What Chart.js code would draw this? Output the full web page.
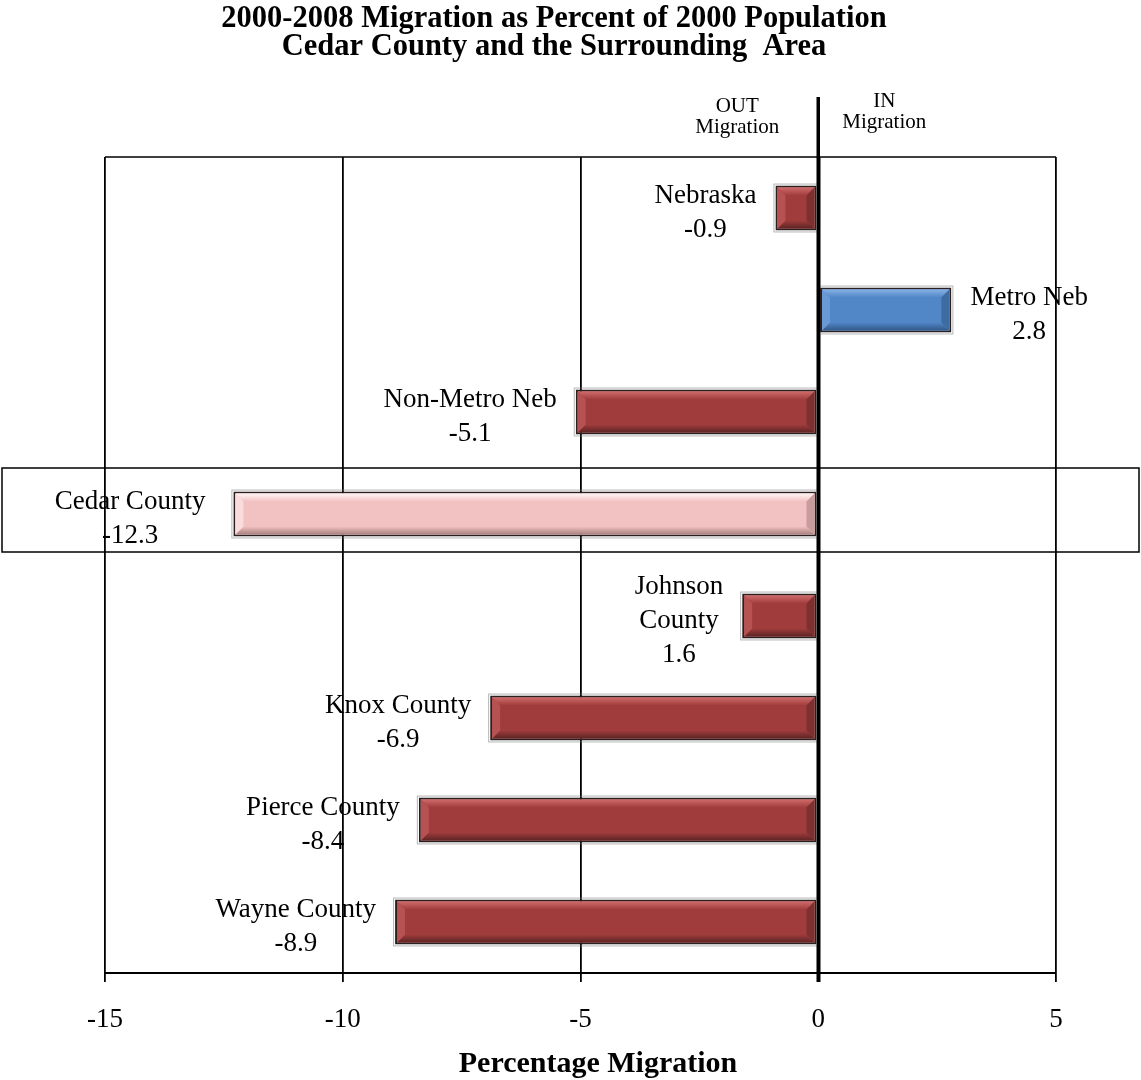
<!DOCTYPE html>
<html>
<head>
<meta charset="utf-8">
<script src="https://cdn.jsdelivr.net/npm/chart.js@4/dist/chart.umd.min.js"></script>
<style>
  html, body { margin: 0; padding: 0; background: #fff; }
  #wrap { width: 1141px; height: 1080px; }
</style>
</head>
<body>
<div id="wrap"><canvas id="c" width="1141" height="1080"></canvas></div>
<script>
// Net migration 2000-2008, percent of 2000 population
const categories = ['Nebraska', 'Metro Neb', 'Non-Metro Neb', 'Cedar County',
                    'Johnson County', 'Knox County', 'Pierce County', 'Wayne County'];
const migrationPct = [-0.9, 2.8, -5.1, -12.3, -1.6, -6.9, -8.4, -8.9];
const valueLabels = ['-0.9', '2.8', '-5.1', '-12.3', '1.6', '-6.9', '-8.4', '-8.9'];
const nameLines = [['Nebraska'], ['Metro Neb'], ['Non-Metro Neb'], ['Cedar County'],
                   ['Johnson', 'County'], ['Knox County'], ['Pierce County'], ['Wayne County']];
const xTicks = [-15, -10, -5, 0, 5];
const highlightCategory = 'Cedar County';

const titleLines = ['2000-2008 Migration as Percent of 2000 Population',
                    'Cedar County and the Surrounding  Area'];
const axisTitle = 'Percentage Migration';
const outLines = ['OUT', 'Migration'];
const inLines = ['IN', 'Migration'];

const SERIF = '"Liberation Serif", "Times New Roman", serif';

const palettes = {
  red:  { face: '#A03C3C', top: '#CF6A6A', bottom: '#5E2424', left: '#B65252', right: '#7E3030' },
  blue: { face: '#5186C7', top: '#86B0E4', bottom: '#33598A', left: '#6A9AD6', right: '#3F6BA3' },
  pink: { face: '#F2C1C1', top: '#FFF6F6', bottom: '#A98181', left: '#FADCDC', right: '#C99C9C' }
};
function paletteFor(i) {
  if (categories[i] === highlightCategory) return palettes.pink;
  return migrationPct[i] > 0 ? palettes.blue : palettes.red;
}

function poly(ctx, pts, fill) {
  ctx.beginPath();
  ctx.moveTo(pts[0][0], pts[0][1]);
  for (let k = 1; k < pts.length; k++) ctx.lineTo(pts[k][0], pts[k][1]);
  ctx.closePath();
  ctx.fillStyle = fill;
  ctx.fill();
}

// plot frame top edge (sides come from the -15 and 5 grid lines, bottom from the axis)
const framePlugin = {
  id: 'frame',
  beforeDatasetsDraw(chart) {
    const { ctx, chartArea: a } = chart;
    ctx.save();
    ctx.strokeStyle = '#000';
    ctx.lineWidth = 1.6;
    ctx.beginPath();
    ctx.moveTo(a.left, a.top);
    ctx.lineTo(a.right, a.top);
    ctx.stroke();
    ctx.restore();
  }
};

// bevelled bar faces, zero line, data labels and annotation text
const decorPlugin = {
  id: 'decor',
  afterDatasetsDraw(chart) {
    const { ctx, chartArea: area } = chart;
    const xs = chart.scales.x, ys = chart.scales.y;
    const meta = chart.getDatasetMeta(0);
    ctx.save();

    // bevels
    meta.data.forEach((el, i) => {
      const p = el.getProps(['x', 'y', 'base', 'height'], true);
      const pal = paletteFor(i);
      const bw = 2;
      const l = Math.min(p.x, p.base) + bw, r = Math.max(p.x, p.base) - bw;
      const t = p.y - p.height / 2 + bw, b = p.y + p.height / 2 - bw;
      const d = Math.min(8, (b - t) / 3, (r - l) / 2);
      const gTop = ctx.createLinearGradient(0, t, 0, t + d);
      gTop.addColorStop(0, pal.top); gTop.addColorStop(1, pal.face);
      const gBot = ctx.createLinearGradient(0, b - d, 0, b);
      gBot.addColorStop(0, pal.face); gBot.addColorStop(1, pal.bottom);
      poly(ctx, [[l, t], [r, t], [r - d, t + d], [l + d, t + d]], gTop);
      poly(ctx, [[l, b], [r, b], [r - d, b - d], [l + d, b - d]], gBot);
      poly(ctx, [[l, t], [l + d, t + d], [l + d, b - d], [l, b]], pal.left);
      poly(ctx, [[r, t], [r - d, t + d], [r - d, b - d], [r, b]], pal.right);
      // soft outer edge
      ctx.strokeStyle = 'rgba(120,120,120,0.55)';
      ctx.lineWidth = 1;
      ctx.strokeRect(l - bw - 1.5, t - bw - 1.5, (r - l) + 2 * bw + 3, (b - t) + 2 * bw + 3);
    });

    // zero line, extended above the plot
    const x0 = xs.getPixelForValue(0);
    ctx.strokeStyle = '#000';
    ctx.lineWidth = 3.5;
    ctx.beginPath();
    ctx.moveTo(x0, 97);
    ctx.lineTo(x0, area.bottom + 9);
    ctx.stroke();

    // data labels: name lines plus value
    ctx.fillStyle = '#000';
    ctx.font = '27px ' + SERIF;
    ctx.textAlign = 'center';
    ctx.textBaseline = 'alphabetic';
    meta.data.forEach((el, i) => {
      const v = migrationPct[i];
      const lines = nameLines[i].concat([valueLabels[i]]);
      const w = Math.max(...lines.map(s => ctx.measureText(s).width));
      const end = xs.getPixelForValue(v);
      const gap = categories[i] === highlightCategory ? 28 : 19;
      const cx = v < 0 ? end - gap - w / 2 : end + gap + w / 2;
      const yc = ys.getPixelForValue(i);
      const first = yc + 11.5 - (lines.length - 1) * 17;
      lines.forEach((s, k) => ctx.fillText(s, cx, first + k * 34));
    });

    // highlight box round the Cedar County row
    const hi = categories.indexOf(highlightCategory);
    const yh = ys.getPixelForValue(hi);
    ctx.strokeStyle = '#000';
    ctx.lineWidth = 1.5;
    ctx.strokeRect(2, yh - 46, 1137, 84);

    // OUT / IN notes beside the zero line
    ctx.font = '21px ' + SERIF;
    ctx.fillText(outLines[0], x0 - 81, 112);
    ctx.fillText(outLines[1], x0 - 81, 133);
    ctx.fillText(inLines[0], x0 + 66, 107);
    ctx.fillText(inLines[1], x0 + 66, 128);

    // titles
    ctx.font = 'bold 30.5px ' + SERIF;
    ctx.fillText(titleLines[0], 554, 27);
    ctx.fillText(titleLines[1], 554, 54.5);
    ctx.font = 'bold 30px ' + SERIF;
    ctx.fillText(axisTitle, 598, 1072);

    ctx.restore();
  }
};

new Chart(document.getElementById('c'), {
  type: 'bar',
  data: {
    labels: categories,
    datasets: [{
      data: migrationPct,
      backgroundColor: categories.map((_, i) => paletteFor(i).face),
      borderColor: '#2a2020',
      borderWidth: 2,
      borderSkipped: false,
      categoryPercentage: 1,
      barPercentage: 0.44
    }]
  },
  options: {
    indexAxis: 'y',
    responsive: false,
    animation: false,
    devicePixelRatio: 1,
    layout: { padding: { left: 105, right: 85, top: 157, bottom: 0 } },
    plugins: {
      legend: { display: false },
      tooltip: { enabled: false },
      title: { display: false }
    },
    scales: {
      x: {
        type: 'linear',
        min: -15,
        max: 5,
        afterBuildTicks(axis) { axis.ticks = xTicks.map(v => ({ value: v })); },
        afterFit(axis) { axis.height = 107; },
        grid: {
          color: '#000',
          lineWidth: c => (c.tick && c.tick.value === 0 ? 3.5 : 1.8),
          drawTicks: true,
          tickLength: 9
        },
        border: { display: true, color: '#000', width: 2 },
        ticks: {
          color: '#000',
          font: { family: SERIF, size: 27 },
          padding: 22,
          maxRotation: 0,
          autoSkip: false
        }
      },
      y: { display: false }
    }
  },
  plugins: [framePlugin, decorPlugin]
});
</script>
</body>
</html>
